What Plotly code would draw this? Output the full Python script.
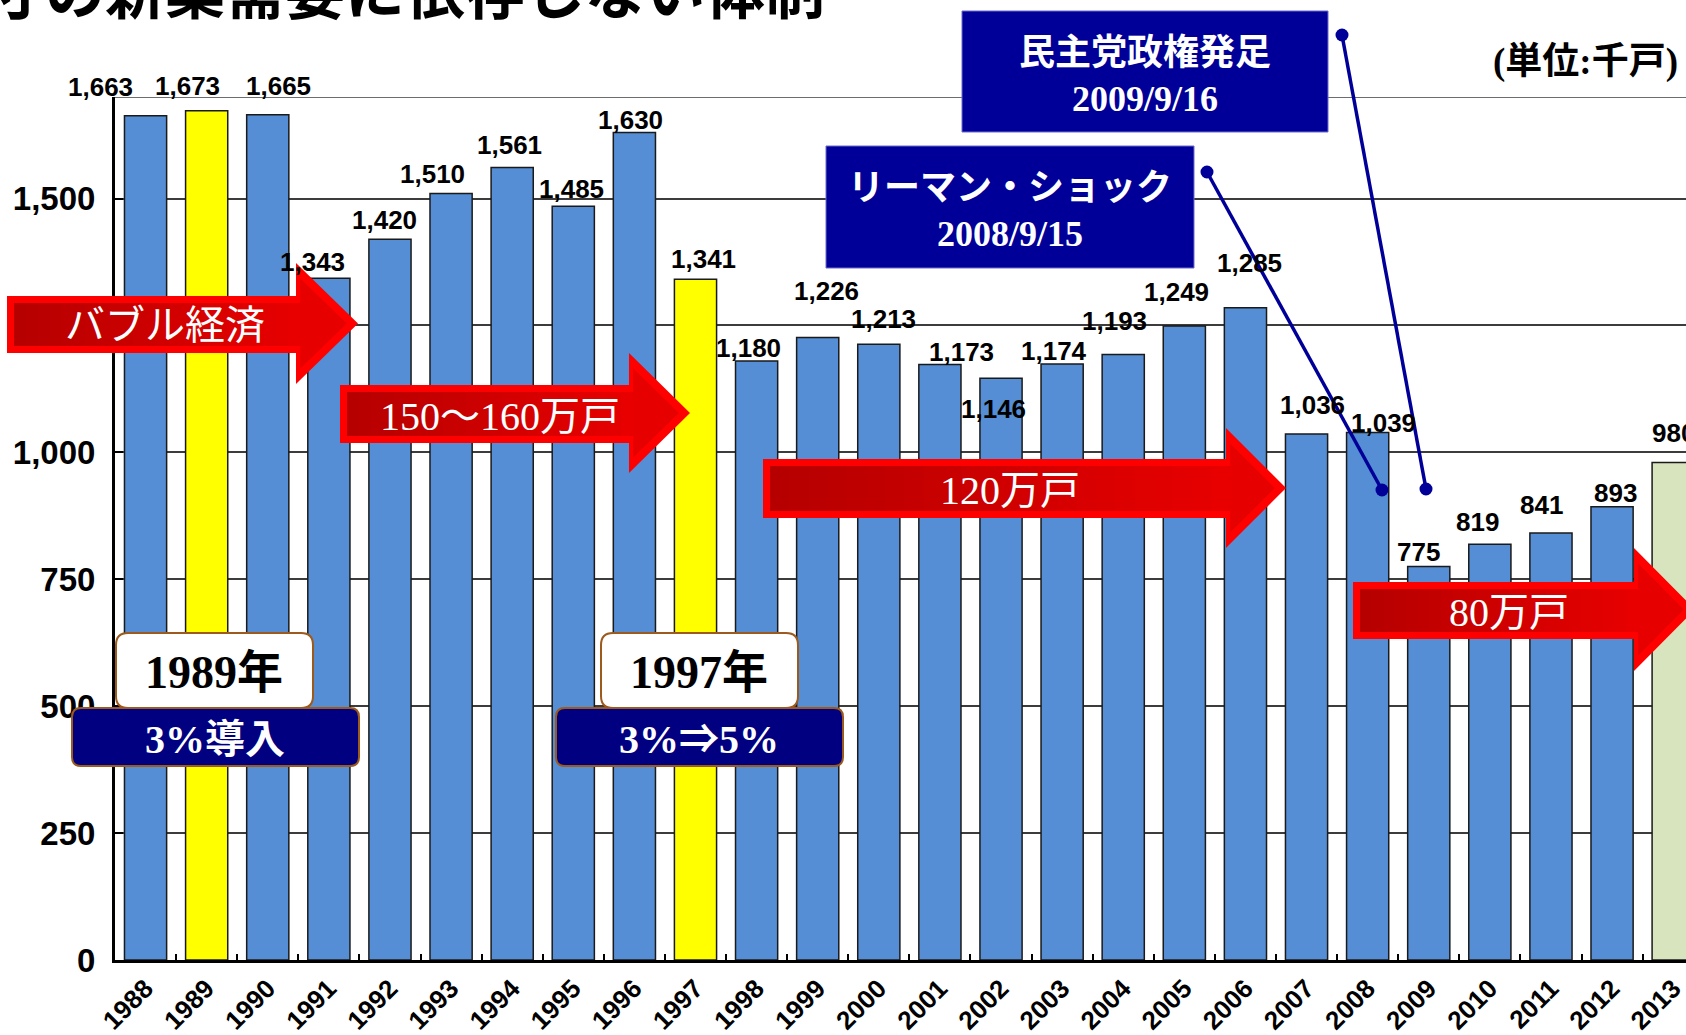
import plotly.graph_objects as go

# ---------------- data ----------------
years = ["1988", "1989", "1990", "1991", "1992", "1993", "1994", "1995", "1996",
         "1997", "1998", "1999", "2000", "2001", "2002", "2003", "2004", "2005",
         "2006", "2007", "2008", "2009", "2010", "2011", "2012", "2013"]
starts = [1663, 1673, 1665, 1343, 1420, 1510, 1561, 1485, 1630,
          1341, 1180, 1226, 1213, 1173, 1146, 1174, 1193, 1249,
          1285, 1036, 1039, 775, 819, 841, 893, 980]
tax_years = ["1989", "1997"]
forecast_years = ["2013"]
y_ticks = [0, 250, 500, 750, 1000, 1250, 1500]

arrow_labels = ["バブル経済", "150～160万戸", "120万戸", "80万戸"]
event_boxes = [["民主党政権発足", "2009/9/16"], ["リーマン・ショック", "2008/9/15"]]
tax_year_labels = ["1989年", "1997年"]
tax_change_labels = ["3%導入", "3%⇒5%"]
unit_label = "(単位:千戸)"
title_text = "寸の新築需要に依存しない体制"

# label placement offsets (pixels) for value labels, mimicking the original
label_dx = [-45, -19, 11, -16, -5, -19, -3, -2, -4, 8, -8, 9, 5, 22, -8, -8, -9, -8, 4, 6, 16, -10, -12, -9, 3, 0]
label_dy = [29, 25, 29, 16, 19, 19, 23, 17, 13, 20, 13, 47, 25, 13, -31, 13, 33, 34, 45, 29, 10, 15, 22, 28, 14, 30]

# ---------------- styling ----------------
BLUE = "#558ed5"
YELLOW = "#ffff00"
GREEN = "#d7e4bd"
NAVY = "#000099"
NAVY2 = "#000080"
BROWN = "#9c5a1c"
SANS = "Liberation Sans, Arial, sans-serif"
SERIF = "Liberation Serif, Noto Sans CJK JP, serif"
CJK = "Noto Sans CJK JP, sans-serif"

colors = [YELLOW if y in tax_years else (GREEN if y in forecast_years else BLUE) for y in years]

FIG_W, FIG_H = 1686, 1035
ML, MR, MT, MB = 115, 0, 97, 75
PW = FIG_W - ML - MR
PH = FIG_H - MT - MB


def px(x):
    return (x - ML) / PW


def py(y):
    return (FIG_H - MB - y) / PH


def path_of(points):
    return "M " + " L ".join(f"{px(x):.5f},{py(y):.5f}" for x, y in points) + " Z"


def rrect_path(x0, y0, x1, y1, r):
    P = lambda x, y: f"{px(x):.5f},{py(y):.5f}"
    return (f"M {P(x0 + r, y0)} L {P(x1 - r, y0)} Q {P(x1, y0)} {P(x1, y0 + r)} "
            f"L {P(x1, y1 - r)} Q {P(x1, y1)} {P(x1 - r, y1)} "
            f"L {P(x0 + r, y1)} Q {P(x0, y1)} {P(x0, y1 - r)} "
            f"L {P(x0, y0 + r)} Q {P(x0, y0)} {P(x0 + r, y0)} Z")


shapes = []
annotations = []


def add_arrow(x0, xh, x1, yb0, yb1, yh0, yh1, text, tx, ty):
    ym = (yh0 + yh1) / 2
    outer = [(x0, yb0), (xh, yb0), (xh, yh0), (x1, ym), (xh, yh1), (xh, yb1), (x0, yb1)]
    shapes.append(dict(type="path", xref="paper", yref="paper", path=path_of(outer),
                       fillcolor="#ff0000", line=dict(width=0), layer="above"))
    ins = 7
    inner = [(x0 + ins, yb0 + ins), (xh + ins * 0.6, yb0 + ins), (xh + ins * 0.6, yh0 + ins * 2.2),
             (x1 - ins * 1.6, ym), (xh + ins * 0.6, yh1 - ins * 2.2), (xh + ins * 0.6, yb1 - ins),
             (x0 + ins, yb1 - ins)]
    shapes.append(dict(type="path", xref="paper", yref="paper", path=path_of(inner),
                       fillcolor="#e60000", line=dict(width=0), layer="above"))
    n = 24
    c0 = (182, 0, 0)
    c1 = (232, 0, 0)
    bx0, bx1 = x0 + ins, xh + ins * 0.6
    for i in range(n):
        t = i / (n - 1)
        c = tuple(int(c0[k] + (c1[k] - c0[k]) * t) for k in range(3))
        sx0 = bx0 + (bx1 - bx0) * i / n
        sx1 = bx0 + (bx1 - bx0) * (i + 1) / n + 0.8
        shapes.append(dict(type="rect", xref="paper", yref="paper",
                           x0=px(sx0), x1=px(sx1), y0=py(yb1 - ins), y1=py(yb0 + ins),
                           fillcolor=f"rgb{c}", line=dict(width=0), layer="above"))
    annotations.append(dict(text=text, xref="paper", yref="paper", x=px(tx), y=py(ty),
                            showarrow=False, xanchor="center", yanchor="middle",
                            font=dict(family=SERIF, size=40, color="white")))


add_arrow(7, 296, 358, 296, 353, 263, 384, arrow_labels[0], 165, 325)
add_arrow(340, 629, 690, 385, 443, 353, 473, arrow_labels[1], 500, 416)
add_arrow(763, 1226, 1286, 459, 518, 428, 548, arrow_labels[2], 1010, 490)
add_arrow(1353, 1634, 1695, 582, 639, 548, 671, arrow_labels[3], 1509, 612)

# navy event boxes
for (bx0, by0, bx1, by1), lines in zip([(962, 11, 1328, 132), (826, 146, 1194, 268)], event_boxes):
    shapes.append(dict(type="rect", xref="paper", yref="paper", x0=px(bx0), x1=px(bx1),
                       y0=py(by1), y1=py(by0), fillcolor=NAVY,
                       line=dict(color="#6a6ad0", width=1), layer="above"))
    cx = (bx0 + bx1) / 2
    annotations.append(dict(text=lines[0], xref="paper", yref="paper", x=px(cx), y=py(by0 + 42),
                            showarrow=False, xanchor="center", yanchor="middle",
                            font=dict(family=SERIF, size=36, color="white", weight="bold")))
    annotations.append(dict(text=lines[1], xref="paper", yref="paper", x=px(cx), y=py(by0 + 88),
                            showarrow=False, xanchor="center", yanchor="middle",
                            font=dict(family=SERIF, size=36, color="white", weight="bold")))

# connector lines with dots
for (ax0, ay0, ax1, ay1) in [(1342, 35, 1426, 489), (1207, 172, 1382, 490)]:
    shapes.append(dict(type="line", xref="paper", yref="paper", x0=px(ax0), y0=py(ay0),
                       x1=px(ax1), y1=py(ay1), line=dict(color=NAVY, width=3.5), layer="above"))
    for (cx, cy) in [(ax0, ay0), (ax1, ay1)]:
        r = 6.5
        shapes.append(dict(type="circle", xref="paper", yref="paper", x0=px(cx - r), x1=px(cx + r),
                           y0=py(cy + r), y1=py(cy - r), fillcolor=NAVY,
                           line=dict(width=0), layer="above"))

# tax boxes
for (wx0, nx0), ylab, clab in zip([(116, 72), (601, 556)], tax_year_labels, tax_change_labels):
    shapes.append(dict(type="path", xref="paper", yref="paper",
                       path=rrect_path(wx0, 633, wx0 + 197, 708, 12),
                       fillcolor="white", line=dict(color=BROWN, width=2), layer="above"))
    shapes.append(dict(type="path", xref="paper", yref="paper",
                       path=rrect_path(nx0, 708, nx0 + 287, 766, 9),
                       fillcolor=NAVY2, line=dict(color=BROWN, width=2), layer="above"))
    annotations.append(dict(text=f"<b>{ylab}</b>", xref="paper", yref="paper", x=px(wx0 + 98),
                            y=py(672), showarrow=False, xanchor="center", yanchor="middle",
                            font=dict(family=SERIF, size=46, color="black")))
    annotations.append(dict(text=clab, xref="paper", yref="paper", x=px(nx0 + 143),
                            y=py(739), showarrow=False, xanchor="center", yanchor="middle",
                            font=dict(family=SERIF, size=40, color="white", weight="bold")))

# top border line
shapes.append(dict(type="line", xref="paper", yref="y", x0=0, x1=1, y0=1700, y1=1700,
                   line=dict(color="#3c3c3c", width=1.5), layer="below"))

# value labels (x given as category index)
for i, (v, dx, dy) in enumerate(zip(starts, label_dx, label_dy)):
    annotations.append(dict(text=f"{v:,}", x=i, y=v, xref="x", yref="y", showarrow=False,
                            xanchor="center", yanchor="middle", xshift=dx, yshift=dy,
                            font=dict(family=SANS, size=26, color="black", weight="bold")))

# unit label
annotations.append(dict(text=f"<b>{unit_label}</b>", xref="paper", yref="paper", x=px(1680),
                        y=py(62), showarrow=False, xanchor="right", yanchor="middle",
                        font=dict(family=SERIF, size=37, color="black")))

# clipped title
annotations.append(dict(text=title_text, xref="paper", yref="paper", x=px(-16), y=py(32),
                        showarrow=False, xanchor="left", yanchor="bottom", borderpad=0,
                        font=dict(family=CJK, size=60, color="black", weight="bold")))

fig = go.Figure(go.Bar(
    x=years, y=starts,
    marker=dict(color=colors, line=dict(color="#1a1a1a", width=1.5)),
    hoverinfo="x+y",
))

fig.update_layout(
    width=FIG_W, height=FIG_H,
    margin=dict(l=ML, r=MR, t=MT, b=MB, pad=0),
    paper_bgcolor="white", plot_bgcolor="white",
    bargap=0.31,
    showlegend=False,
    shapes=shapes,
    annotations=annotations,
    xaxis=dict(type="category", range=[-0.5, 25.21], tickson="boundaries", ticks="inside",
               ticklen=6, tickwidth=2, tickcolor="black", showline=True, linewidth=3,
               linecolor="black", tickangle=-45, showgrid=False, automargin=False,
               tickfont=dict(family=SANS, size=26, color="black", weight="bold")),
    yaxis=dict(range=[0, 1700], tickvals=y_ticks, tickformat=",", showgrid=True,
               gridcolor="#3c3c3c", gridwidth=1.5, showline=True, linewidth=3,
               linecolor="black", ticks="inside", ticklen=8, tickwidth=2, tickcolor="black",
               zeroline=False, automargin=False, ticklabelstandoff=10,
               tickfont=dict(family=SANS, size=33, color="black", weight="bold")),
)

fig.write_html(
    "out.html",
    config={"displayModeBar": False},
    post_script="document.body.style.margin='0';document.body.style.overflow='hidden';",
)
